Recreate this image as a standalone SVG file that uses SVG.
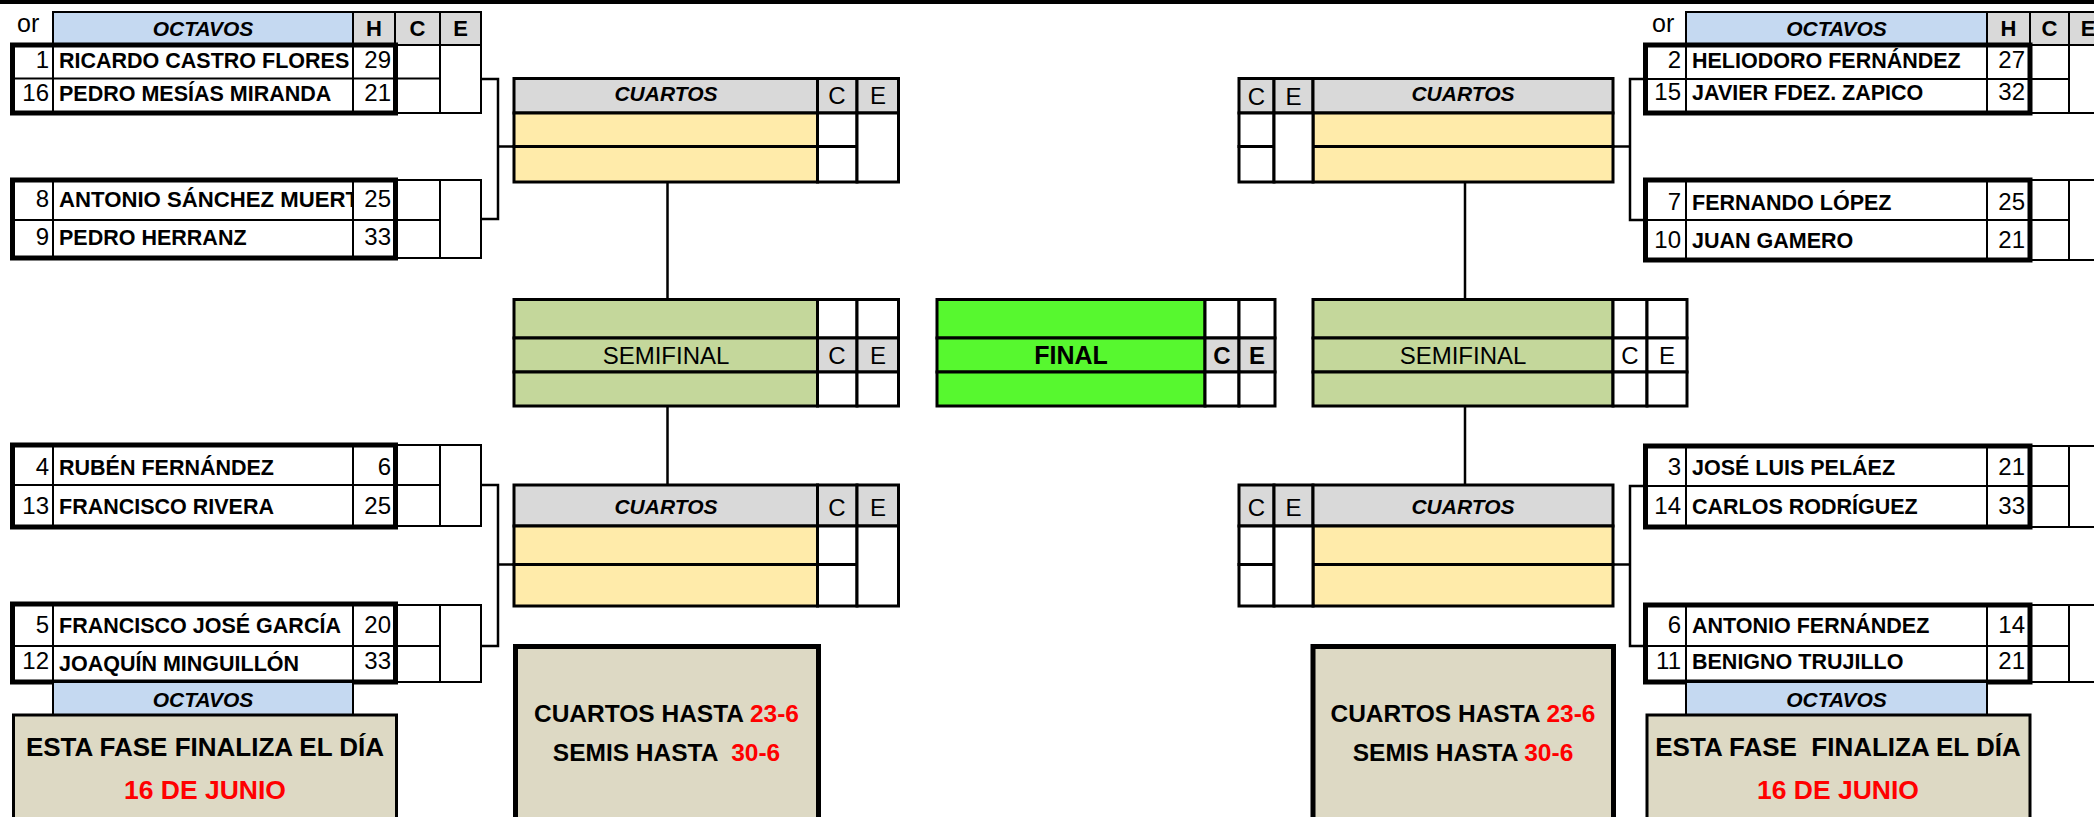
<svg xmlns="http://www.w3.org/2000/svg" width="2094" height="817" viewBox="0 0 2094 817">
<style>
.k{stroke:#000;stroke-width:2}
.k3{stroke:#000;stroke-width:3}
.fr{fill:none;stroke:#000;stroke-width:5}
.cn{fill:none;stroke:#000;stroke-width:2.5}
text{font-family:"Liberation Sans",Arial,sans-serif;fill:#000}
.n{font-size:21.5px;font-weight:bold}
.d{font-size:24px}
.or{font-size:25px}
.h{font-size:22px;font-weight:bold}
.hi{font-size:21px;font-weight:bold;font-style:italic}
.ci{font-size:21px;font-weight:bold;font-style:italic}
.ce{font-size:24px}
.ceb{font-size:24px;font-weight:bold}
.sf{font-size:24px}
.fn{font-size:25px;font-weight:bold}
.tb{font-size:24.5px;font-weight:bold}
.ta{font-size:26px;font-weight:bold}
.tr{font-size:26.5px;font-weight:bold}
.m{text-anchor:middle}
.e{text-anchor:end}
.red{fill:#FF0000}
.blue{fill:#C5D9F1}
.gray{fill:#D9D9D9}
.yel{fill:#FFEBAA}
.sg{fill:#C4D79B}
.fg{fill:#57F82F}
.tan{fill:#DDD9C4}
.w{fill:#FFFFFF}
</style>
<defs>
<clipPath id="clipName"><rect x="53" y="180" width="299" height="40"/></clipPath>
</defs>
<rect x="0" y="0" width="2094" height="817" fill="#FFFFFF"/>
<rect id="topbar" x="0" y="0" width="2094" height="4" fill="#000"/>

<!-- connectors -->
<g id="connectors">
<path class="cn" d="M481,79 H498 V219 H481 M498,146.5 H514"/>
<path class="cn" d="M481,485 H498 V646 H481 M498,564.5 H514"/>
<path class="cn" d="M667.5,182 V299.5 M667.5,406 V485"/>
<path class="cn" d="M1645,79 H1630 V220 H1645 M1630,146.5 H1613"/>
<path class="cn" d="M1645,486 H1630 V646 H1645 M1630,564.5 H1613"/>
<path class="cn" d="M1465,182 V299.5 M1465,406 V485"/>
</g>

<!-- left header -->
<g id="hdr-left">
<text x="17" y="32" class="or">or</text>
<rect x="53" y="12" width="300" height="33" class="blue k"/>
<rect x="353" y="12" width="42" height="33" class="gray k"/>
<rect x="395" y="12" width="45" height="33" class="gray k"/>
<rect x="440" y="12" width="41" height="33" class="gray k"/>
<text x="203" y="36" class="hi m">OCTAVOS</text>
<text x="374" y="36" class="h m">H</text>
<text x="417.5" y="36" class="h m">C</text>
<text x="460.5" y="36" class="h m">E</text>
</g>

<!-- right header -->
<g id="hdr-right">
<text x="1652" y="32" class="or">or</text>
<rect x="1686" y="12" width="301" height="33" class="blue k"/>
<rect x="1987" y="12" width="43" height="33" class="gray k"/>
<rect x="2030" y="12" width="39" height="33" class="gray k"/>
<rect x="2069" y="12" width="40" height="33" class="gray k"/>
<text x="1836.5" y="36" class="hi m">OCTAVOS</text>
<text x="2008.5" y="36" class="h m">H</text>
<text x="2049.5" y="36" class="h m">C</text>
<text x="2088" y="36" class="h m">E</text>
</g>

<!-- left octavos matches -->
<g id="m-1-16">
<rect x="395" y="45" width="86" height="68" class="w k"/>
<line x1="440" y1="45" x2="440" y2="113" class="k"/>
<line x1="395" y1="78.5" x2="440" y2="78.5" class="k"/>
<line x1="53" y1="45" x2="53" y2="113" class="k"/>
<line x1="353" y1="45" x2="353" y2="113" class="k"/>
<line x1="12.5" y1="78.5" x2="395" y2="78.5" class="k"/>
<rect x="12.5" y="45" width="383" height="68" class="fr"/>
<text x="49" y="68" class="d e">1</text>
<text x="59" y="68" class="n">RICARDO CASTRO FLORES</text>
<text x="391" y="68" class="d e">29</text>
<text x="49" y="101" class="d e">16</text>
<text x="59" y="101" class="n">PEDRO MESÍAS MIRANDA</text>
<text x="391" y="101" class="d e">21</text>
</g>

<g id="m-8-9">
<rect x="395" y="180" width="86" height="78" class="w k"/>
<line x1="440" y1="180" x2="440" y2="258" class="k"/>
<line x1="395" y1="220" x2="440" y2="220" class="k"/>
<line x1="53" y1="180" x2="53" y2="258" class="k"/>
<line x1="353" y1="180" x2="353" y2="258" class="k"/>
<line x1="12.5" y1="220" x2="395" y2="220" class="k"/>
<rect x="12.5" y="180" width="383" height="78" class="fr"/>
<text x="49" y="207" class="d e">8</text>
<text x="59" y="207" class="n" clip-path="url(#clipName)" textLength="300" lengthAdjust="spacingAndGlyphs">ANTONIO SÁNCHEZ MUERT</text>
<text x="391" y="207" class="d e">25</text>
<text x="49" y="245" class="d e">9</text>
<text x="59" y="245" class="n">PEDRO HERRANZ</text>
<text x="391" y="245" class="d e">33</text>
</g>

<g id="m-4-13">
<rect x="395" y="445" width="86" height="81" class="w k"/>
<line x1="440" y1="445" x2="440" y2="526" class="k"/>
<line x1="395" y1="485" x2="440" y2="485" class="k"/>
<line x1="53" y1="445" x2="53" y2="527" class="k"/>
<line x1="353" y1="445" x2="353" y2="527" class="k"/>
<line x1="12.5" y1="485" x2="395" y2="485" class="k"/>
<rect x="12.5" y="445" width="383" height="82" class="fr"/>
<text x="49" y="475" class="d e">4</text>
<text x="59" y="475" class="n">RUBÉN FERNÁNDEZ</text>
<text x="391" y="475" class="d e">6</text>
<text x="49" y="514" class="d e">13</text>
<text x="59" y="514" class="n">FRANCISCO RIVERA</text>
<text x="391" y="514" class="d e">25</text>
</g>

<g id="m-5-12">
<rect x="395" y="605" width="86" height="77" class="w k"/>
<line x1="440" y1="605" x2="440" y2="682" class="k"/>
<line x1="395" y1="646" x2="440" y2="646" class="k"/>
<line x1="53" y1="604" x2="53" y2="682" class="k"/>
<line x1="353" y1="604" x2="353" y2="682" class="k"/>
<line x1="12.5" y1="646" x2="395" y2="646" class="k"/>
<rect x="12.5" y="604" width="383" height="78" class="fr"/>
<text x="49" y="633" class="d e">5</text>
<text x="59" y="633" class="n">FRANCISCO JOSÉ GARCÍA</text>
<text x="391" y="633" class="d e">20</text>
<text x="49" y="669" class="d e">12</text>
<text x="59" y="671" class="n">JOAQUÍN MINGUILLÓN</text>
<text x="391" y="669" class="d e">33</text>
</g>

<g id="octavos-label-left">
<rect x="53" y="682" width="300" height="33" class="blue k"/>
<text x="203" y="707" class="hi m">OCTAVOS</text>
</g>

<g id="note-octavos-left">
<rect x="13.5" y="715" width="383" height="140" class="tan" stroke="#000" stroke-width="3"/>
<text x="205" y="756" class="ta m">ESTA FASE FINALIZA EL DÍA</text>
<text x="205" y="799" class="tr m red">16 DE JUNIO</text>
</g>

<!-- right octavos matches -->
<g id="m-2-15">
<rect x="2030" y="45" width="80" height="68" class="w k"/>
<line x1="2069" y1="45" x2="2069" y2="113" class="k"/>
<line x1="2030" y1="79" x2="2069" y2="79" class="k"/>
<line x1="1686" y1="45" x2="1686" y2="113" class="k"/>
<line x1="1987" y1="45" x2="1987" y2="113" class="k"/>
<line x1="1645.5" y1="79" x2="2030" y2="79" class="k"/>
<rect x="1645.5" y="45" width="384.5" height="68" class="fr"/>
<text x="1681" y="68" class="d e">2</text>
<text x="1692" y="68" class="n">HELIODORO FERNÁNDEZ</text>
<text x="2025" y="68" class="d e">27</text>
<text x="1681" y="100" class="d e">15</text>
<text x="1692" y="100" class="n">JAVIER FDEZ. ZAPICO</text>
<text x="2025" y="100" class="d e">32</text>
</g>

<g id="m-7-10">
<rect x="2030" y="180" width="80" height="80" class="w k"/>
<line x1="2069" y1="180" x2="2069" y2="260" class="k"/>
<line x1="2030" y1="220" x2="2069" y2="220" class="k"/>
<line x1="1686" y1="180" x2="1686" y2="260" class="k"/>
<line x1="1987" y1="180" x2="1987" y2="260" class="k"/>
<line x1="1645.5" y1="220" x2="2030" y2="220" class="k"/>
<rect x="1645.5" y="180" width="384.5" height="80" class="fr"/>
<text x="1681" y="210" class="d e">7</text>
<text x="1692" y="210" class="n">FERNANDO LÓPEZ</text>
<text x="2025" y="210" class="d e">25</text>
<text x="1681" y="248" class="d e">10</text>
<text x="1692" y="248" class="n">JUAN GAMERO</text>
<text x="2025" y="248" class="d e">21</text>
</g>

<g id="m-3-14">
<rect x="2030" y="446" width="80" height="81" class="w k"/>
<line x1="2069" y1="446" x2="2069" y2="527" class="k"/>
<line x1="2030" y1="486" x2="2069" y2="486" class="k"/>
<line x1="1686" y1="446" x2="1686" y2="527" class="k"/>
<line x1="1987" y1="446" x2="1987" y2="527" class="k"/>
<line x1="1645.5" y1="486" x2="2030" y2="486" class="k"/>
<rect x="1645.5" y="446" width="384.5" height="81" class="fr"/>
<text x="1681" y="475" class="d e">3</text>
<text x="1692" y="475" class="n">JOSÉ LUIS PELÁEZ</text>
<text x="2025" y="475" class="d e">21</text>
<text x="1681" y="514" class="d e">14</text>
<text x="1692" y="514" class="n">CARLOS RODRÍGUEZ</text>
<text x="2025" y="514" class="d e">33</text>
</g>

<g id="m-6-11">
<rect x="2030" y="605" width="80" height="77" class="w k"/>
<line x1="2069" y1="605" x2="2069" y2="682" class="k"/>
<line x1="2030" y1="646" x2="2069" y2="646" class="k"/>
<line x1="1686" y1="605" x2="1686" y2="682" class="k"/>
<line x1="1987" y1="605" x2="1987" y2="682" class="k"/>
<line x1="1645.5" y1="646" x2="2030" y2="646" class="k"/>
<rect x="1645.5" y="605" width="384.5" height="77" class="fr"/>
<text x="1681" y="633" class="d e">6</text>
<text x="1692" y="633" class="n">ANTONIO FERNÁNDEZ</text>
<text x="2025" y="633" class="d e">14</text>
<text x="1681" y="669" class="d e">11</text>
<text x="1692" y="669" class="n">BENIGNO TRUJILLO</text>
<text x="2025" y="669" class="d e">21</text>
</g>

<g id="octavos-label-right">
<rect x="1686" y="682" width="301" height="33" class="blue k"/>
<text x="1836.5" y="707" class="hi m">OCTAVOS</text>
</g>

<g id="note-octavos-right">
<rect x="1647" y="715" width="383" height="140" class="tan" stroke="#000" stroke-width="3"/>
<text x="1838" y="756" class="ta m" xml:space="preserve">ESTA FASE  FINALIZA EL DÍA</text>
<text x="1838" y="799" class="tr m red">16 DE JUNIO</text>
</g>

<!-- cuartos left -->
<g id="cuartos-left-top">
<rect x="514" y="78.5" width="303.5" height="34.5" class="gray k3"/>
<rect x="817.5" y="78.5" width="39.5" height="34.5" class="gray k3"/>
<rect x="857" y="78.5" width="41.5" height="34.5" class="gray k3"/>
<rect x="514" y="113" width="303.5" height="33.5" class="yel k3"/>
<rect x="514" y="146.5" width="303.5" height="35.5" class="yel k3"/>
<rect x="817.5" y="113" width="39.5" height="33.5" class="w k3"/>
<rect x="817.5" y="146.5" width="39.5" height="35.5" class="w k3"/>
<rect x="857" y="113" width="41.5" height="69" class="w k3"/>
<text x="666" y="100.5" class="ci m">CUARTOS</text>
<text x="837" y="104" class="ce m">C</text>
<text x="878" y="104" class="ce m">E</text>
</g>

<g id="cuartos-left-bottom">
<rect x="514" y="485" width="303.5" height="41" class="gray k3"/>
<rect x="817.5" y="485" width="39.5" height="41" class="gray k3"/>
<rect x="857" y="485" width="41.5" height="41" class="gray k3"/>
<rect x="514" y="526" width="303.5" height="38.5" class="yel k3"/>
<rect x="514" y="564.5" width="303.5" height="41.5" class="yel k3"/>
<rect x="817.5" y="526" width="39.5" height="38.5" class="w k3"/>
<rect x="817.5" y="564.5" width="39.5" height="41.5" class="w k3"/>
<rect x="857" y="526" width="41.5" height="80" class="w k3"/>
<text x="666" y="514" class="ci m">CUARTOS</text>
<text x="837" y="516" class="ce m">C</text>
<text x="878" y="516" class="ce m">E</text>
</g>

<!-- cuartos right -->
<g id="cuartos-right-top">
<rect x="1239" y="78.5" width="35" height="34.5" class="gray k3"/>
<rect x="1274" y="78.5" width="39" height="34.5" class="gray k3"/>
<rect x="1313" y="78.5" width="300" height="34.5" class="gray k3"/>
<rect x="1313" y="113" width="300" height="33.5" class="yel k3"/>
<rect x="1313" y="146.5" width="300" height="35.5" class="yel k3"/>
<rect x="1239" y="113" width="35" height="33.5" class="w k3"/>
<rect x="1239" y="146.5" width="35" height="35.5" class="w k3"/>
<rect x="1274" y="113" width="39" height="69" class="w k3"/>
<text x="1463" y="100.5" class="ci m">CUARTOS</text>
<text x="1256.5" y="105" class="ce m">C</text>
<text x="1293.5" y="105" class="ce m">E</text>
</g>

<g id="cuartos-right-bottom">
<rect x="1239" y="485" width="35" height="41" class="gray k3"/>
<rect x="1274" y="485" width="39" height="41" class="gray k3"/>
<rect x="1313" y="485" width="300" height="41" class="gray k3"/>
<rect x="1313" y="526" width="300" height="38.5" class="yel k3"/>
<rect x="1313" y="564.5" width="300" height="41.5" class="yel k3"/>
<rect x="1239" y="526" width="35" height="38.5" class="w k3"/>
<rect x="1239" y="564.5" width="35" height="41.5" class="w k3"/>
<rect x="1274" y="526" width="39" height="80" class="w k3"/>
<text x="1463" y="514" class="ci m">CUARTOS</text>
<text x="1256.5" y="516" class="ce m">C</text>
<text x="1293.5" y="516" class="ce m">E</text>
</g>

<!-- semifinal left -->
<g id="semifinal-left">
<rect x="514" y="299.5" width="303.5" height="38.5" class="sg k3"/>
<rect x="514" y="338" width="303.5" height="34" class="sg k3"/>
<rect x="514" y="372" width="303.5" height="34" class="sg k3"/>
<rect x="817.5" y="299.5" width="39.5" height="38.5" class="w k3"/>
<rect x="857" y="299.5" width="41.5" height="38.5" class="w k3"/>
<rect x="817.5" y="338" width="39.5" height="34" class="gray k3"/>
<rect x="857" y="338" width="41.5" height="34" class="gray k3"/>
<rect x="817.5" y="372" width="39.5" height="34" class="w k3"/>
<rect x="857" y="372" width="41.5" height="34" class="w k3"/>
<text x="666" y="364" class="sf m">SEMIFINAL</text>
<text x="837" y="364" class="ce m">C</text>
<text x="878" y="364" class="ce m">E</text>
</g>

<!-- final -->
<g id="final">
<rect x="937" y="299.5" width="268" height="38.5" class="fg k3"/>
<rect x="937" y="338" width="268" height="34" class="fg k3"/>
<rect x="937" y="372" width="268" height="34" class="fg k3"/>
<rect x="1205" y="299.5" width="34" height="38.5" class="w k3"/>
<rect x="1239" y="299.5" width="36" height="38.5" class="w k3"/>
<rect x="1205" y="338" width="34" height="34" class="gray k3"/>
<rect x="1239" y="338" width="36" height="34" class="gray k3"/>
<rect x="1205" y="372" width="34" height="34" class="w k3"/>
<rect x="1239" y="372" width="36" height="34" class="w k3"/>
<text x="1071" y="364" class="fn m">FINAL</text>
<text x="1222" y="364" class="ceb m">C</text>
<text x="1257" y="364" class="ceb m">E</text>
</g>

<!-- semifinal right -->
<g id="semifinal-right">
<rect x="1313" y="299.5" width="300" height="38.5" class="sg k3"/>
<rect x="1313" y="338" width="300" height="34" class="sg k3"/>
<rect x="1313" y="372" width="300" height="34" class="sg k3"/>
<rect x="1613" y="299.5" width="34" height="38.5" class="w k3"/>
<rect x="1647" y="299.5" width="40" height="38.5" class="w k3"/>
<rect x="1613" y="338" width="34" height="34" class="w k3"/>
<rect x="1647" y="338" width="40" height="34" class="w k3"/>
<rect x="1613" y="372" width="34" height="34" class="w k3"/>
<rect x="1647" y="372" width="40" height="34" class="w k3"/>
<text x="1463" y="364" class="sf m">SEMIFINAL</text>
<text x="1630" y="364" class="ce m">C</text>
<text x="1667" y="364" class="ce m">E</text>
</g>

<!-- deadline notes -->
<g id="note-center-left">
<rect x="515.5" y="646.5" width="303" height="200" class="tan" stroke="#000" stroke-width="5"/>
<text x="666.5" y="722" class="tb m">CUARTOS HASTA <tspan class="red">23-6</tspan></text>
<text x="666.5" y="761" class="tb m" xml:space="preserve">SEMIS HASTA  <tspan class="red">30-6</tspan></text>
</g>

<g id="note-center-right">
<rect x="1313" y="646.5" width="300.5" height="200" class="tan" stroke="#000" stroke-width="5"/>
<text x="1463" y="722" class="tb m">CUARTOS HASTA <tspan class="red">23-6</tspan></text>
<text x="1463" y="761" class="tb m">SEMIS HASTA <tspan class="red">30-6</tspan></text>
</g>
</svg>
